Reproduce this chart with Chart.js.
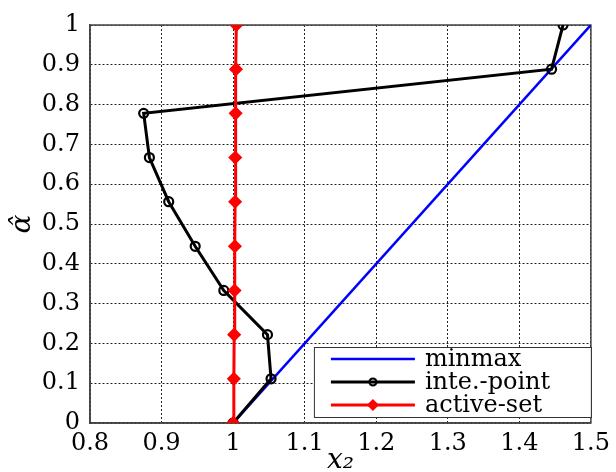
<!DOCTYPE html>
<html>
<head>
<meta charset="utf-8">
<script src="https://cdn.jsdelivr.net/npm/chart.js@4/dist/chart.umd.min.js"></script>
<style>
  html, body { margin: 0; padding: 0; background: #fff; }
  #wrap { width: 616px; height: 472px; }
</style>
</head>
<body>
<div id="wrap"><canvas id="grafico" width="616" height="472"></canvas></div>
<script>
// dados
const alphaHat = [0, 0.111, 0.222, 0.333, 0.444, 0.556, 0.667, 0.778, 0.889, 1];
const minmaxX = [1.0, 1.5];
const minmaxY = [0, 1];
const intePointX = [1.0, 1.053, 1.048, 0.987, 0.947, 0.910, 0.883, 0.875, 1.445, 1.461];
const activeSetX = [1.000, 1.001, 1.0015, 1.002, 1.0025, 1.0028, 1.003, 1.0035, 1.004, 1.0045];
const seriesNames = ["minmax", "inte.-point", "active-set"];
const xTicks = [0.8, 0.9, 1.0, 1.1, 1.2, 1.3, 1.4, 1.5];
const xTickLabels = ["0.8", "0.9", "1", "1.1", "1.2", "1.3", "1.4", "1.5"];
const yTicks = [0, 0.1, 0.2, 0.3, 0.4, 0.5, 0.6, 0.7, 0.8, 0.9, 1];
const yTickLabels = ["0", "0.1", "0.2", "0.3", "0.4", "0.5", "0.6", "0.7", "0.8", "0.9", "1"];

const pares = (xs, ys) => xs.map((x, i) => ({ x, y: ys[i] }));
const fonte = "'DejaVu Serif', serif";

// moldura do eixo (box on)
const moldura = {
  id: "moldura",
  beforeDatasetsDraw(chart) {
    const { ctx, chartArea: a } = chart;
    ctx.save();
    ctx.strokeStyle = "#444";
    ctx.lineWidth = 1.5;
    ctx.strokeRect(a.left, a.top, a.right - a.left, a.bottom - a.top);
    ctx.restore();
  },
};

// legenda dentro do gráfico, canto inferior direito
const legenda = {
  id: "legenda",
  afterDraw(chart) {
    const { ctx, chartArea: a } = chart;
    const w = 277, h = 70;
    const x0 = a.right - w, y0 = a.bottom - 6 - h;
    ctx.save();
    ctx.fillStyle = "#fff";
    ctx.fillRect(x0, y0, w, h);
    ctx.strokeStyle = "#333";
    ctx.lineWidth = 1;
    ctx.strokeRect(x0 + 0.5, y0 + 0.5, w, h);
    ctx.font = "24px " + fonte;
    ctx.textBaseline = "middle";
    chart.data.datasets.forEach((ds, i) => {
      const y = y0 + 12 + i * 23;
      ctx.strokeStyle = ds.borderColor;
      ctx.lineWidth = ds.borderWidth;
      ctx.beginPath();
      ctx.moveTo(x0 + 17, y);
      ctx.lineTo(x0 + 101, y);
      ctx.stroke();
      if (ds.pointRadius > 0) {
        ctx.fillStyle = ds.pointBackgroundColor;
        ctx.strokeStyle = ds.pointBorderColor;
        ctx.lineWidth = ds.pointBorderWidth;
        Chart.helpers.drawPoint(ctx, {
          pointStyle: ds.pointStyle,
          radius: ds.pointRadius - 1,
          borderWidth: ds.pointBorderWidth,
          rotation: 0,
        }, x0 + 59, y);
      }
      ctx.fillStyle = "#000";
      ctx.fillText(ds.label, x0 + 111, y + 1);
    });
    ctx.restore();
  },
};

const canvas = document.getElementById("grafico");
const ctx = canvas.getContext("2d");

new Chart(ctx, {
  type: "scatter",
  data: {
    datasets: [
      {
        label: seriesNames[0],
        data: pares(minmaxX, minmaxY),
        showLine: true,
        borderColor: "#0000ff",
        backgroundColor: "#0000ff",
        borderWidth: 2.6,
        pointRadius: 0,
        order: 3,
      },
      {
        label: seriesNames[1],
        data: pares(intePointX, alphaHat),
        showLine: true,
        borderColor: "#000",
        backgroundColor: "rgba(0,0,0,0)",
        borderWidth: 3,
        pointStyle: "circle",
        pointRadius: 4.5,
        pointBorderWidth: 2.2,
        pointBorderColor: "#000",
        pointBackgroundColor: "rgba(0,0,0,0)",
        order: 2,
      },
      {
        label: seriesNames[2],
        data: pares(activeSetX, alphaHat),
        showLine: true,
        borderColor: "#ff0000",
        backgroundColor: "#ff0000",
        borderWidth: 3,
        pointStyle: "rectRot",
        pointRadius: 6,
        pointBorderWidth: 1.5,
        pointBorderColor: "#ff0000",
        pointBackgroundColor: "#ff0000",
        order: 1,
      },
    ],
  },
  options: {
    responsive: false,
    animation: false,
    layout: { padding: { top: 25, right: 21, left: 0, bottom: 0 } },
    plugins: {
      legend: { display: false },
      tooltip: { enabled: false },
    },
    scales: {
      x: {
        type: "linear",
        min: 0.8,
        max: 1.5,
        afterFit: (s) => { s.height = 49; },
        afterBuildTicks: (s) => { s.ticks = xTicks.map((v) => ({ value: v })); },
        ticks: {
          font: { family: fonte, size: 24 },
          color: "#000",
          padding: 6,
          maxRotation: 0,
          autoSkip: false,
          callback: (v, i) => xTickLabels[i],
        },
        grid: { color: "#222", lineWidth: 1, drawTicks: false },
        border: { display: true, color: "#444", width: 1.5, dash: [2, 2] },
        title: {
          display: true,
          text: "x₂",
          font: { family: fonte, size: 28, style: "italic" },
          color: "#000",
          padding: { top: 0, bottom: -6 },
        },
      },
      y: {
        type: "linear",
        min: 0,
        max: 1,
        afterFit: (s) => { s.width = 90; },
        afterBuildTicks: (s) => { s.ticks = yTicks.map((v) => ({ value: v })); },
        ticks: {
          font: { family: fonte, size: 24 },
          color: "#000",
          padding: 10,
          autoSkip: false,
          callback: (v, i) => yTickLabels[i],
        },
        grid: { color: "#222", lineWidth: 1, drawTicks: false },
        border: { display: true, color: "#444", width: 1.5, dash: [2, 2] },
        title: {
          display: true,
          text: "α̂",
          font: { family: fonte, size: 28, style: "italic" },
          color: "#000",
          padding: { top: 6, bottom: 0 },
        },
      },
    },
  },
  plugins: [moldura, legenda],
});
</script>
</body>
</html>
